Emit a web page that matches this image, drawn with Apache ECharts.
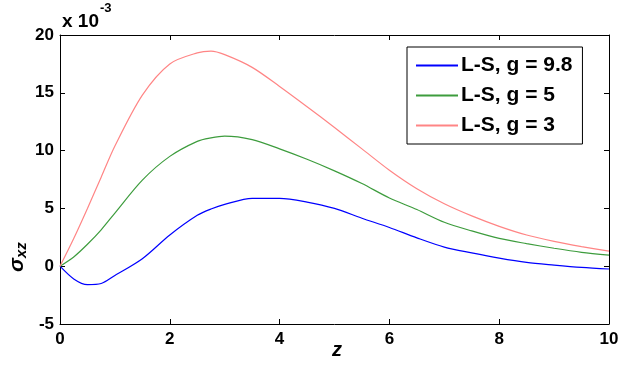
<!DOCTYPE html>
<html>
<head>
<meta charset="utf-8">
<script src="https://cdn.jsdelivr.net/npm/echarts@6/dist/echarts.min.js"></script>
<style>
  html, body { margin: 0; padding: 0; background: #fff; }
  #chart { width: 619px; height: 366px; }
</style>
</head>
<body>
<div id="chart"></div>
<script>
// values are in units of 1e-3
const zValues = [0, 0.25, 0.5, 0.75, 1, 1.5, 2, 2.5, 2.75, 3, 3.5, 4, 4.5, 5, 5.5, 6, 6.5, 7, 7.5, 8, 8.5, 9, 9.5, 10];
const g98 = [0, -1.1, -1.6, -1.5, -0.8, 0.65, 2.7, 4.4, 4.95, 5.35, 5.87, 5.87, 5.55, 5.0, 4.15, 3.35, 2.45, 1.65, 1.15, 0.7, 0.33, 0.1, -0.1, -0.24];
const g5 = [0, 0.8, 1.9, 3.15, 4.6, 7.45, 9.5, 10.8, 11.1, 11.25, 10.95, 10.15, 9.25, 8.25, 7.15, 5.9, 4.9, 3.8, 3.05, 2.4, 1.95, 1.55, 1.2, 0.95];
const g3 = [0, 2.4, 5.0, 7.7, 10.4, 14.8, 17.5, 18.45, 18.6, 18.3, 17.2, 15.55, 13.8, 12.0, 10.15, 8.3, 6.7, 5.4, 4.35, 3.45, 2.7, 2.15, 1.7, 1.3];
const seriesNames = ['L-S, g = 9.8', 'L-S, g = 5', 'L-S, g = 3'];
const colors = ['#0000ff', '#3d9c3d', '#ff8585'];

const pairs = (ys) => zValues.map((z, i) => [z, ys[i]]);
const font = 'Liberation Sans, Arial, sans-serif';

const chart = echarts.init(document.getElementById('chart'), null, { renderer: 'canvas' });

const axisCommon = {
  axisLine: { show: true, onZero: false, lineStyle: { color: '#000', width: 1 } },
  axisTick: { show: true, inside: true, length: 5, lineStyle: { color: '#000' } },
  splitLine: { show: false }
};

chart.setOption({
  animation: false,
  color: colors,
  grid: { left: 60, right: 10, top: 35, bottom: 42, outerBoundsMode: 'none' },
  xAxis: [
    {
      type: 'value', min: 0, max: 10, interval: 2,
      ...axisCommon,
      axisLabel: { color: '#000', fontSize: 17, fontWeight: 'bold', fontFamily: font, margin: 7 }
    },
    {
      type: 'value', min: 0, max: 10, interval: 2, position: 'top',
      ...axisCommon,
      axisLabel: { show: false }
    }
  ],
  yAxis: [
    {
      type: 'value', min: -5, max: 20, interval: 5,
      ...axisCommon,
      axisLabel: { color: '#000', fontSize: 17, fontWeight: 'bold', fontFamily: font, margin: 6 }
    },
    {
      type: 'value', min: -5, max: 20, interval: 5, position: 'right',
      ...axisCommon,
      axisLabel: { show: false }
    }
  ],
  legend: {
    orient: 'vertical',
    left: 407, top: 47,
    data: seriesNames,
    backgroundColor: '#fff',
    borderColor: '#000', borderWidth: 1, borderRadius: 0,
    padding: [8, 10, 8, 8],
    itemWidth: 42, itemHeight: 10, itemGap: 9,
    itemStyle: { opacity: 0 },
    textStyle: { color: '#000', fontSize: 21, fontWeight: 'bold', fontFamily: font, padding: [0, 0, 0, -2] }
  },
  graphic: [
    {
      type: 'text', left: 62, top: 2,
      style: {
        text: '{a|x 10}{b|-3}',
        rich: {
          a: { fontSize: 19, fontWeight: 'bold', fontFamily: font, fill: '#000', padding: [10, 0, 0, 0] },
          b: { fontSize: 13, fontWeight: 'bold', fontFamily: font, fill: '#000', verticalAlign: 'top', padding: [0, 0, 8, 1] }
        }
      }
    },
    {
      type: 'text', x: 6, y: 272, rotation: Math.PI / 2,
      style: {
        text: '{a|σ}{b|xz}',
        rich: {
          a: { fontSize: 21, fontWeight: 'bold', fontStyle: 'italic', fontFamily: font, fill: '#000' },
          b: { fontSize: 15, fontWeight: 'bold', fontStyle: 'italic', fontFamily: font, fill: '#000', padding: [8, 0, 0, 0] }
        }
      }
    },
    {
      type: 'text', x: 337, y: 350,
      style: {
        text: 'z', align: 'center', verticalAlign: 'middle',
        fontSize: 20, fontWeight: 'bold', fontStyle: 'italic', fontFamily: font, fill: '#000'
      }
    }
  ],
  series: [
    { name: seriesNames[0], type: 'line', data: pairs(g98), smooth: 0.3, symbol: 'none', lineStyle: { width: 1.2 } },
    { name: seriesNames[1], type: 'line', data: pairs(g5), smooth: 0.3, symbol: 'none', lineStyle: { width: 1.2 } },
    { name: seriesNames[2], type: 'line', data: pairs(g3), smooth: 0.3, symbol: 'none', lineStyle: { width: 1.2 } }
  ]
});
</script>
</body>
</html>
